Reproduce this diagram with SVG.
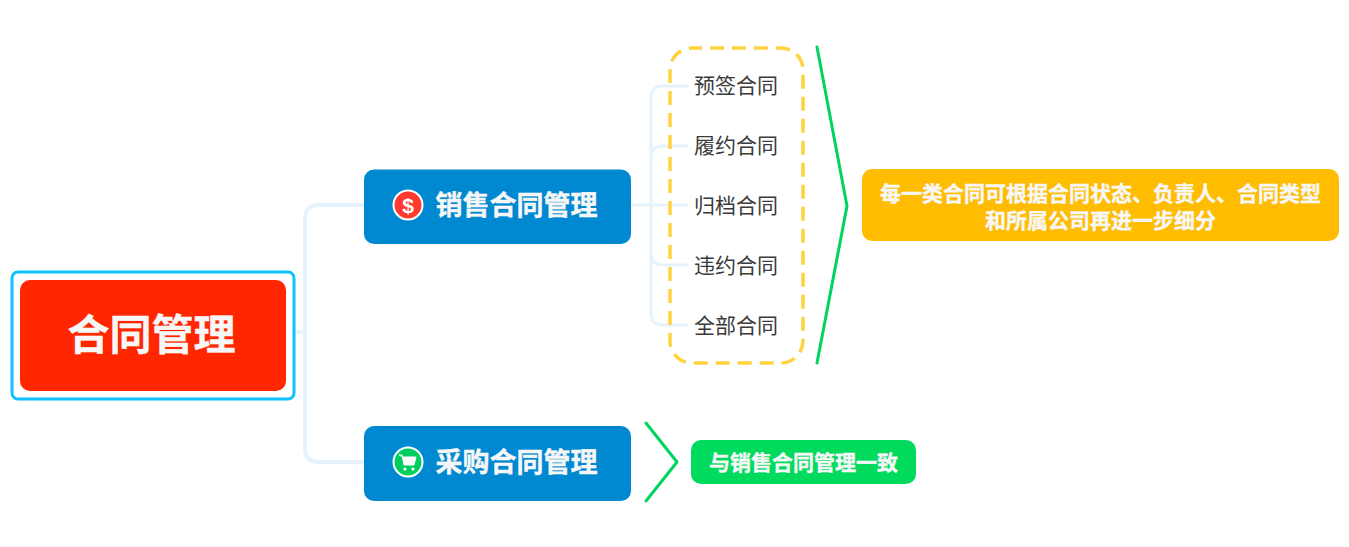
<svg xmlns="http://www.w3.org/2000/svg" width="1349" height="547" viewBox="0 0 1349 547">
<style>
text{font-family:"Liberation Sans","Noto Sans CJK SC",sans-serif;text-anchor:middle}
.b{font-weight:700;fill:#f7f7f7;stroke:#f7f7f7;stroke-width:.4}
.l{font-size:21px;fill:#3a3a3a}
.c{fill:none;stroke:#e6f3fc;stroke-linecap:round}
.g{fill:none;stroke:#00d45c;stroke-width:3;stroke-linecap:round;stroke-linejoin:round}
.t{font-size:27px}
.s{font-size:21px}
</style>
<rect width="1349" height="547" fill="#fff"/>
<g id="connectors">
<path class="c" stroke-width="4" d="M286 332H305M364 205H319Q305 205 305 219V448Q305 462 319 462H364"/>
<path class="c" stroke-width="3" d="M631 205H687M687 86H663Q651 86 651 98V313Q651 325 663 325H687M687 146H663Q651 146 651 158M651 253Q651 265 663 265H687"/>
<path class="g" d="M817 47L847 206L817 363"/>
<path class="g" d="M646 423L677 462L646 501"/>
</g>
<g id="root">
<rect x="12" y="272" width="282" height="127" rx="6" fill="#fff" stroke="#0cc2ff" stroke-width="3"/>
<rect x="20" y="280" width="266" height="111" rx="10" fill="#ff2600"/>
<text class="b" x="151.500" y="350" font-size="42">合同管理</text>
</g>
<g id="sales">
<rect x="364" y="169.500" width="267" height="74.500" rx="10" fill="#0088d1"/>
<circle cx="408" cy="205" r="14.500" fill="#ff3b2f" stroke="#fff" stroke-width="2"/>
<text x="408" y="212.500" font-size="21" font-weight="700" fill="#fff">$</text>
<text class="b t" x="516.500" y="215">销售合同管理</text>
</g>
<g id="purchase">
<rect x="364" y="426" width="267" height="75" rx="10" fill="#0088d1"/>
<circle cx="408" cy="462" r="14.500" fill="#00cf5f" stroke="#fff" stroke-width="2"/>
<path d="M399 455h3l2 10h10l2-8h-13z" fill="#fff" stroke="#fff" stroke-linejoin="round"/>
<circle cx="405" cy="469" r="1.600" fill="#fff"/>
<circle cx="413" cy="469" r="1.600" fill="#fff"/>
<text class="b t" x="516.500" y="472">采购合同管理</text>
</g>
<g id="frame">
<rect x="670" y="48" width="133" height="315" rx="22" fill="none" stroke="#ffd23f" stroke-width="3.500" stroke-dasharray="14 8" stroke-dashoffset="4"/>
</g>
<g id="n1"><text class="l" x="736" y="93">预签合同</text></g>
<g id="n2"><text class="l" x="736" y="153">履约合同</text></g>
<g id="n3"><text class="l" x="736" y="213">归档合同</text></g>
<g id="n4"><text class="l" x="736" y="273">违约合同</text></g>
<g id="n5"><text class="l" x="736" y="333">全部合同</text></g>
<g id="note1">
<rect x="862" y="169" width="477" height="72" rx="10" fill="#ffbc00"/>
<text class="b s" x="1100.500" y="201">每一类合同可根据合同状态、负责人、合同类型</text>
<text class="b s" x="1100.500" y="228">和所属公司再进一步细分</text>
</g>
<g id="note2">
<rect x="691" y="440" width="225" height="44" rx="10" fill="#00db5e"/>
<text class="b s" x="803.500" y="470">与销售合同管理一致</text>
</g>
</svg>
